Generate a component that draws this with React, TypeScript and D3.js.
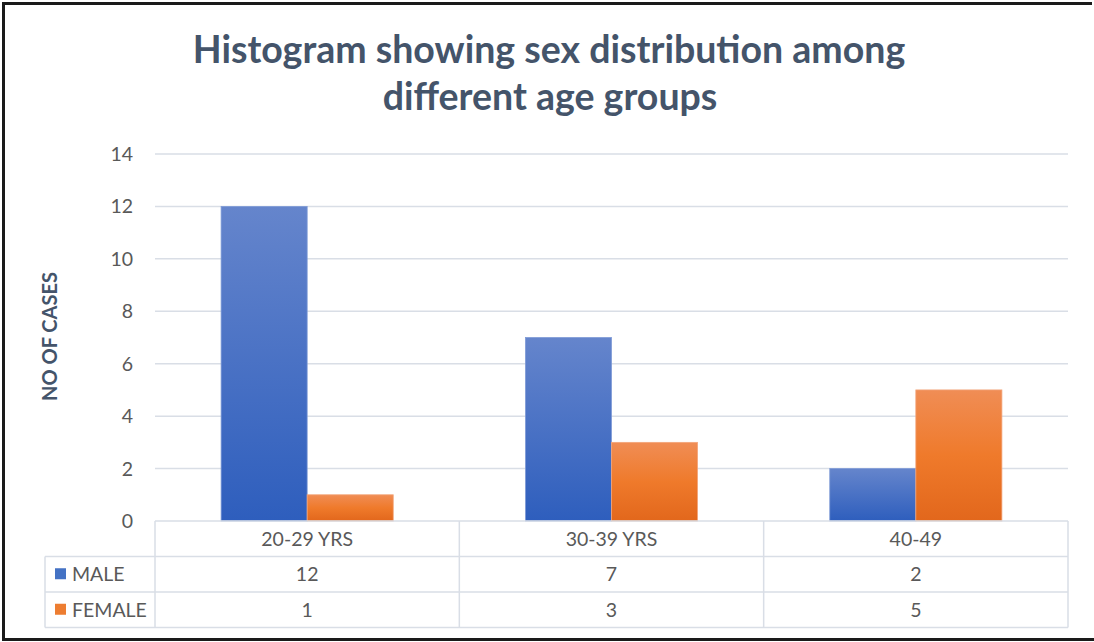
import { useMemo } from "react";
import * as d3 from "d3";

const W = 1094, H = 642;
const PLOT = { left: 155, right: 1068, top: 154, bottom: 521 };
const ROW_H = 35.5;
const TABLE_LEFT = 45;

const categories = ["20-29 YRS", "30-39 YRS", "40-49"];
const maleValues = [12, 7, 2];
const femaleValues = [1, 3, 5];
const yTicks = [0, 2, 4, 6, 8, 10, 12, 14];
const seriesNames = ["MALE", "FEMALE"];

const FONT = "Lato, 'Open Sans', sans-serif";
const TEXT = "#595959";
const GRID = "#D9DEE6";
const TITLE = "#44546A";

export default function App() {
  const series = [maleValues, femaleValues];

  const x = useMemo(
    () => d3.scaleBand<string>().domain(categories).range([PLOT.left, PLOT.right]).paddingInner(0).paddingOuter(0),
    []
  );
  const y = useMemo(() => d3.scaleLinear([0, 14], [PLOT.bottom, PLOT.top]), []);
  const inner = useMemo(
    () => d3.scaleBand<string>().domain(seriesNames).range([0, x.bandwidth()]).paddingOuter(0.768).paddingInner(0),
    [x]
  );

  const gradIds = ["gradMale", "gradFemale"];
  const swatch = ["#4472C4", "#ED7D31"];

  return (
    <svg width={W} height={H} style={{ position: "absolute", left: 0, top: 0, background: "#fff" }}
      fontFamily={FONT}>
      <defs>
        <linearGradient id="gradMale" x1="0" y1="0" x2="0" y2="1">
          <stop offset="0%" stopColor="#6585CC" />
          <stop offset="100%" stopColor="#2E5EBD" />
        </linearGradient>
        <linearGradient id="gradFemale" x1="0" y1="0" x2="0" y2="1">
          <stop offset="0%" stopColor="#F08D55" />
          <stop offset="50%" stopColor="#EF7A2B" />
          <stop offset="100%" stopColor="#E2671C" />
        </linearGradient>
      </defs>

      {/* Frame */}
      <path d={`M3.5,${H - 2.5} V3.5 H1092`} fill="none" stroke="#1a1a1a" strokeWidth="3" />
      <line x1={2} y1={H - 2.5} x2={W} y2={H - 2.5} stroke="#1a1a1a" strokeWidth="3" />

      {/* Title */}
      <text x={549} y={63} textAnchor="middle" fontSize="37.5" fontWeight="bold" fill={TITLE}>
        Histogram showing sex distribution among
      </text>
      <text x={550} y={110} textAnchor="middle" fontSize="37.5" fontWeight="bold" fill={TITLE}>
        different age groups
      </text>

      {/* Grid + y ticks */}
      {yTicks.map((t) => (
        <g key={t}>
          {t > 0 && (
            <line x1={PLOT.left} x2={PLOT.right} y1={y(t)} y2={y(t)} stroke={GRID} strokeWidth="1.5" />
          )}
          <text x={133} y={y(t) + 7} textAnchor="end" fontSize="19.5" fill={TEXT}>{t}</text>
        </g>
      ))}

      {/* Y label */}
      <text transform={`translate(57,${(PLOT.top + PLOT.bottom) / 2 - 1}) rotate(-90)`} textAnchor="middle"
        fontSize="20" fontWeight="bold" fill={TITLE}>
        NO OF CASES
      </text>

      {/* Bars */}
      {categories.map((c, i) => (
        <g key={c}>
          {series.map((vals, s) => (
            <rect key={s}
              x={x(c)! + inner(seriesNames[s])!}
              y={y(vals[i])}
              width={inner.bandwidth()}
              height={y(0) - y(vals[i])}
              fill={`url(#${gradIds[s]})`}
              stroke={s === 0 ? "#7F9BD6" : "#F3A57A"}
              strokeWidth="0.8"
            />
          ))}
        </g>
      ))}

      {/* Data table */}
      <g stroke={GRID} strokeWidth="1.5" fill="none">
        <line x1={PLOT.left} x2={PLOT.right} y1={PLOT.bottom} y2={PLOT.bottom} />
        {[1, 2, 3].map((r) => (
          <line key={r} x1={TABLE_LEFT} x2={PLOT.right} y1={PLOT.bottom + r * ROW_H} y2={PLOT.bottom + r * ROW_H} />
        ))}
        <line x1={TABLE_LEFT} x2={TABLE_LEFT} y1={PLOT.bottom + ROW_H} y2={PLOT.bottom + 3 * ROW_H} />
        {[...categories.map((c) => x(c)!), PLOT.right].map((xx, k) => (
          <line key={k} x1={xx} x2={xx} y1={PLOT.bottom} y2={PLOT.bottom + 3 * ROW_H} />
        ))}
      </g>
      {categories.map((c) => (
        <text key={c} x={x(c)! + x.bandwidth() / 2} y={PLOT.bottom + ROW_H / 2 + 7}
          textAnchor="middle" fontSize="19.5" fill={TEXT}>{c}</text>
      ))}
      {series.map((vals, s) => {
        const rowY = PLOT.bottom + (s + 1) * ROW_H;
        return (
          <g key={s}>
            <rect x={55} y={rowY + ROW_H / 2 - 6} width={11} height={11} fill={swatch[s]} />
            <text x={72} y={rowY + ROW_H / 2 + 7} fontSize="19.5" fill={TEXT}>{seriesNames[s]}</text>
            {categories.map((c, i) => (
              <text key={c} x={x(c)! + x.bandwidth() / 2} y={rowY + ROW_H / 2 + 7}
                textAnchor="middle" fontSize="19.5" fill={TEXT}>{vals[i]}</text>
            ))}
          </g>
        );
      })}
    </svg>
  );
}
